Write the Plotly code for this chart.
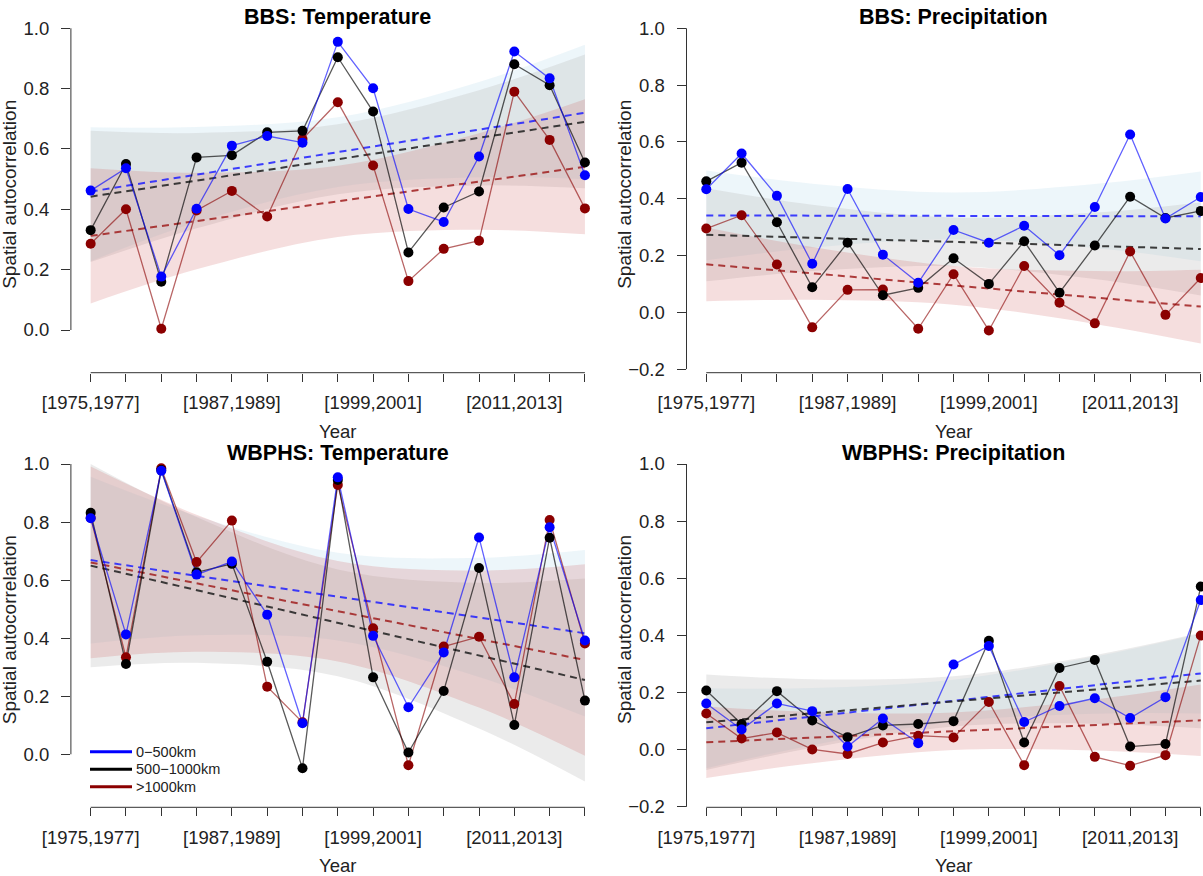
import plotly.graph_objects as go

W, H = 1203, 876

# ---------------- data ----------------
categories = ["[1975,1977]", "[1978,1980]", "[1981,1983]", "[1984,1986]", "[1987,1989]",
              "[1990,1992]", "[1993,1995]", "[1996,1998]", "[1999,2001]", "[2002,2004]",
              "[2005,2007]", "[2008,2010]", "[2011,2013]", "[2014,2016]", "[2017,2019]"]
labelled_ticks = ["[1975,1977]", "[1987,1989]", "[1999,2001]", "[2011,2013]"]
series_names = ["0\u2212500km", "500\u22121000km", ">1000km"]
panel_titles = ["BBS: Temperature", "BBS: Precipitation", "WBPHS: Temperature", "WBPHS: Precipitation"]

# BBS temperature
bbs_temp_near = [0.462, 0.536, 0.177, 0.402, 0.611, 0.643, 0.621, 0.955, 0.801, 0.401, 0.358, 0.575, 0.923, 0.834, 0.513]
bbs_temp_mid = [0.331, 0.550, 0.160, 0.572, 0.579, 0.655, 0.660, 0.904, 0.724, 0.257, 0.406, 0.459, 0.881, 0.811, 0.555]
bbs_temp_far = [0.286, 0.400, 0.004, 0.396, 0.461, 0.376, 0.633, 0.755, 0.545, 0.162, 0.269, 0.296, 0.790, 0.630, 0.403]
# BBS precipitation
bbs_prec_near = [0.433, 0.559, 0.410, 0.171, 0.434, 0.203, 0.104, 0.290, 0.245, 0.305, 0.201, 0.371, 0.626, 0.330, 0.406]
bbs_prec_mid = [0.461, 0.527, 0.317, 0.088, 0.245, 0.060, 0.086, 0.190, 0.100, 0.250, 0.069, 0.235, 0.407, 0.332, 0.357]
bbs_prec_far = [0.295, 0.342, 0.168, -0.053, 0.079, 0.080, -0.058, 0.134, -0.064, 0.163, 0.034, -0.039, 0.214, -0.009, 0.121]
# WBPHS temperature
wbphs_temp_near = [0.813, 0.413, 0.977, 0.619, 0.664, 0.481, 0.107, 0.954, 0.408, 0.162, 0.351, 0.747, 0.265, 0.782, 0.392]
wbphs_temp_mid = [0.832, 0.311, 0.979, 0.627, 0.656, 0.319, -0.048, 0.945, 0.265, 0.006, 0.218, 0.642, 0.101, 0.746, 0.185]
wbphs_temp_far = [0.815, 0.334, 0.985, 0.662, 0.805, 0.233, 0.110, 0.928, 0.434, -0.038, 0.371, 0.405, 0.173, 0.807, 0.382]
# WBPHS precipitation
wbphs_prec_near = [0.162, 0.071, 0.162, 0.135, 0.011, 0.109, 0.023, 0.298, 0.363, 0.097, 0.153, 0.180, 0.111, 0.184, 0.524]
wbphs_prec_mid = [0.207, 0.090, 0.205, 0.102, 0.044, 0.085, 0.090, 0.100, 0.381, 0.025, 0.286, 0.314, 0.011, 0.020, 0.571]
wbphs_prec_far = [0.127, 0.039, 0.060, 0.001, -0.015, 0.025, 0.049, 0.043, 0.167, -0.054, 0.223, -0.025, -0.056, -0.019, 0.400]

# trend lines: value at first and last category
bbs_temp_trend = [[0.459, 0.720], [0.442, 0.690], [0.312, 0.541]]
bbs_prec_trend = [[0.341, 0.338], [0.273, 0.223], [0.169, 0.020]]
wbphs_temp_trend = [[0.669, 0.417], [0.650, 0.256], [0.661, 0.325]]
wbphs_prec_trend = [[0.075, 0.267], [0.096, 0.242], [0.026, 0.103]]

# confidence bands, read at these categories
band_categories = ["[1975,1977]", "[1984,1986]", "[1996,1998]", "[2008,2010]", "[2017,2019]"]
bbs_temp_band_upper = [[0.672, 0.673, 0.705, 0.822, 0.945], [0.660, 0.653, 0.682, 0.795, 0.913], [0.536, 0.521, 0.544, 0.652, 0.765]]
bbs_temp_band_lower = [[0.228, 0.357, 0.474, 0.506, 0.500], [0.225, 0.337, 0.450, 0.479, 0.470], [0.088, 0.201, 0.308, 0.332, 0.317]]
bbs_prec_band_upper = [[0.499, 0.453, 0.422, 0.452, 0.496], [0.437, 0.379, 0.334, 0.351, 0.387], [0.299, 0.230, 0.163, 0.145, 0.150]]
bbs_prec_band_lower = [[0.183, 0.227, 0.257, 0.226, 0.180], [0.109, 0.145, 0.162, 0.117, 0.059], [0.039, 0.044, 0.027, -0.041, -0.110]]
wbphs_temp_band_upper = [[0.956, 0.821, 0.694, 0.677, 0.704], [1.000, 0.817, 0.637, 0.591, 0.606], [0.991, 0.825, 0.666, 0.633, 0.655]]
wbphs_temp_band_lower = [[0.382, 0.410, 0.392, 0.266, 0.130], [0.300, 0.315, 0.269, 0.089, -0.094], [0.331, 0.353, 0.320, 0.161, -0.005]]
wbphs_prec_band_upper = [[0.215, 0.216, 0.245, 0.326, 0.407], [0.263, 0.247, 0.257, 0.331, 0.409], [0.151, 0.132, 0.130, 0.176, 0.228]]
wbphs_prec_band_lower = [[-0.065, 0.016, 0.098, 0.126, 0.127], [-0.071, 0.007, 0.081, 0.091, 0.075], [-0.099, -0.047, -0.001, -0.003, -0.022]]

panels_data = [
    ([bbs_temp_near, bbs_temp_mid, bbs_temp_far], bbs_temp_trend, bbs_temp_band_upper, bbs_temp_band_lower),
    ([bbs_prec_near, bbs_prec_mid, bbs_prec_far], bbs_prec_trend, bbs_prec_band_upper, bbs_prec_band_lower),
    ([wbphs_temp_near, wbphs_temp_mid, wbphs_temp_far], wbphs_temp_trend, wbphs_temp_band_upper, wbphs_temp_band_lower),
    ([wbphs_prec_near, wbphs_prec_mid, wbphs_prec_far], wbphs_prec_trend, wbphs_prec_band_upper, wbphs_prec_band_lower),
]

# ---------------- styles ----------------
FONT = "Liberation Sans, Arial, sans-serif"
marker_colors = ["#0000ff", "#000000", "#8b0000"]
line_colors = ["rgba(0,0,255,0.62)", "rgba(0,0,0,0.65)", "rgba(139,0,0,0.6)"]
trend_colors = ["rgba(30,30,255,0.85)", "rgba(40,40,40,0.9)", "rgba(160,30,30,0.85)"]
band_fills = ["rgba(173,216,230,0.22)", "rgba(190,190,190,0.30)", "rgba(205,92,92,0.20)"]

# panel geometry in pixels: (left, right, top, bottom), x range, y range, y ticks
geo = [
    dict(px=(70.9, 604.7, 16.2, 372.7), xr=[0.44, 15.56], yr=[-0.1415, 1.04], yt=[0, 0.2, 0.4, 0.6, 0.8, 1.0]),
    dict(px=(686.5, 1203, 16.94, 372.7), xr=[0.44, 15.063], yr=[-0.2127, 1.04], yt=[-0.2, 0, 0.2, 0.4, 0.6, 0.8, 1.0]),
    dict(px=(70.9, 604.7, 452.39, 807.3), xr=[0.44, 15.56], yr=[-0.1826, 1.04], yt=[0, 0.2, 0.4, 0.6, 0.8, 1.0]),
    dict(px=(686.5, 1203, 452.57, 807.3), xr=[0.44, 15.063], yr=[-0.2016, 1.04], yt=[-0.2, 0, 0.2, 0.4, 0.6, 0.8, 1.0]),
]

pos = {c: i + 1 for i, c in enumerate(categories)}
xs = [pos[c] for c in categories]
band_xs = [pos[c] for c in band_categories]

fig = go.Figure()
shapes = []
annotations = []

for p, (series, trends, bup, blo) in enumerate(panels_data):
    sfx = "" if p == 0 else str(p + 1)
    xa, ya = "x" + sfx, "y" + sfx
    g = geo[p]
    l, r, t, b = g["px"]

    # bands
    for k in range(3):
        fig.add_trace(go.Scatter(x=band_xs, y=blo[k], mode="lines", line=dict(width=0, shape="spline"),
                                 xaxis=xa, yaxis=ya, showlegend=False, hoverinfo="skip"))
        fig.add_trace(go.Scatter(x=band_xs, y=bup[k], mode="lines", line=dict(width=0, shape="spline"),
                                 fill="tonexty", fillcolor=band_fills[k],
                                 xaxis=xa, yaxis=ya, showlegend=False, hoverinfo="skip"))
    # trend lines
    for k in range(3):
        fig.add_trace(go.Scatter(x=[xs[0], xs[-1]], y=trends[k], mode="lines",
                                 line=dict(color=trend_colors[k], width=2, dash="7px,5px"),
                                 xaxis=xa, yaxis=ya, showlegend=False, hoverinfo="skip"))
    # series (draw far, mid, near so near is on top)
    for k in [2, 1, 0]:
        fig.add_trace(go.Scatter(x=xs, y=series[k], mode="lines", line=dict(color=line_colors[k], width=1.3),
                                 xaxis=xa, yaxis=ya, showlegend=False, hoverinfo="skip"))
    for k in [2, 1, 0]:
        fig.add_trace(go.Scatter(x=xs, y=series[k], mode="markers", name=series_names[k],
                                 marker=dict(color=marker_colors[k], size=10, line=dict(width=0)),
                                 xaxis=xa, yaxis=ya, showlegend=False))

    xdom = [l / W, min(r / W, 1.0)]
    ydom = [1 - b / H, 1 - t / H]
    ticktext = [c if c in labelled_ticks else "" for c in categories]
    fig.update_layout(**{
        ("xaxis" + sfx): dict(domain=xdom, range=g["xr"], anchor=ya, showgrid=False, zeroline=False,
                              showline=False, automargin=False, tickmode="array", tickvals=xs, ticktext=ticktext,
                              ticks="outside", ticklen=8, tickwidth=1, tickcolor="#333",
                              ticklabelstandoff=5,
                              tickfont=dict(family=FONT, size=18.5, color="#222")),
        ("yaxis" + sfx): dict(domain=ydom, range=g["yr"], anchor=xa, showgrid=False, zeroline=False,
                              showline=False, automargin=False, tickmode="array", tickvals=g["yt"], tickformat=".1f",
                              ticks="outside", ticklen=9, tickwidth=1, tickcolor="#333",
                              ticklabelstandoff=8,
                              tickfont=dict(family=FONT, size=18.5, color="#222")),
    })
    # R-style axis lines spanning the tick range only
    shapes.append(dict(type="line", xref=xa + " domain", yref=ya, x0=0, x1=0,
                       y0=g["yt"][0], y1=g["yt"][-1], line=dict(color="#333", width=1)))
    shapes.append(dict(type="line", xref=xa, yref=ya + " domain", x0=xs[0], x1=xs[-1],
                       y0=0, y1=0, line=dict(color="#333", width=1)))

    center_px = l + 267
    annotations.append(dict(text="<b>" + panel_titles[p] + "</b>", xref="paper", yref="paper",
                            x=center_px / W, y=1 - (t + 0.5) / H, xanchor="center", yanchor="middle",
                            showarrow=False, font=dict(family=FONT, size=21.5, color="#000")))
    annotations.append(dict(text="Year", xref="paper", yref="paper",
                            x=center_px / W, y=1 - (b + 58.5) / H, xanchor="center", yanchor="middle",
                            showarrow=False, font=dict(family=FONT, size=18.5, color="#222")))
    annotations.append(dict(text="Spatial autocorrelation", xref="paper", yref="paper", textangle=-90,
                            x=(l - 61.5) / W, y=1 - ((t + b) / 2) / H, xanchor="center", yanchor="middle",
                            showarrow=False, font=dict(family=FONT, size=19, color="#222")))

# legend (bottom-left panel)
legend_rows = [751.7, 769.3, 786.7]
for k in range(3):
    yy = 1 - legend_rows[k] / H
    shapes.append(dict(type="line", xref="paper", yref="paper", x0=90 / W, x1=132 / W, y0=yy, y1=yy,
                       line=dict(color=marker_colors[k], width=3)))
    annotations.append(dict(text=series_names[k], xref="paper", yref="paper", x=134 / W, y=yy,
                            xanchor="left", yanchor="middle", showarrow=False,
                            font=dict(family=FONT, size=14.5, color="#222")))

fig.update_layout(width=W, height=H, margin=dict(l=0, r=0, t=0, b=0, pad=0, autoexpand=False),
                  paper_bgcolor="white", plot_bgcolor="white", showlegend=False,
                  shapes=shapes, annotations=annotations)

fig.write_html("out.html", config={"displayModeBar": False},
               post_script="document.body.style.margin='0';document.body.style.overflow='hidden';")
